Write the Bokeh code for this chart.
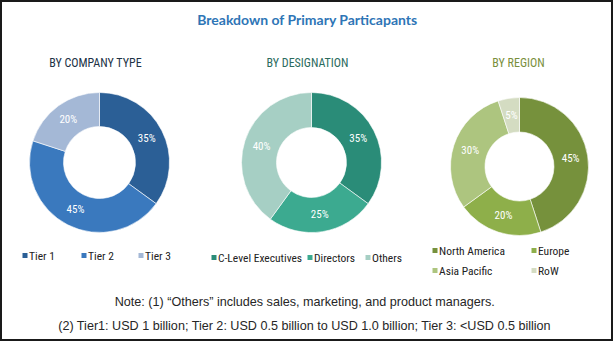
import math
from bokeh.plotting import figure
from bokeh.models import Range1d, ColumnDataSource
from bokeh.core.properties import value
from bokeh.embed import file_html
from bokeh.resources import INLINE

W, H = 613, 341

title_text = "Breakdown of Primary Particapants"

company_title = "BY COMPANY TYPE"
company_labels = ["Tier 1", "Tier 2", "Tier 3"]
company_values = [35, 45, 20]
company_colors = ["#2B5F96", "#3A79BE", "#A4B8D6"]

designation_title = "BY DESIGNATION"
designation_labels = ["C-Level Executives", "Directors", "Others"]
designation_values = [35, 25, 40]
designation_colors = ["#2A8C78", "#3CAA90", "#A6CFC4"]

region_title = "BY REGION"
region_labels = ["North America", "Europe", "Asia Pacific", "RoW"]
region_values = [45, 20, 30, 5]
region_colors = ["#76913C", "#8EAF4A", "#ADC57F", "#D4DCC2"]

notes = [
    "Note: (1) \u201cOthers\u201d  includes sales, marketing, and product managers.",
    "(2) Tier1:  USD 1 billion; Tier 2: USD 0.5 billion to USD 1.0 billion; Tier 3: <USD 0.5 billion",
]

NARROW = "'Liberation Sans Narrow', 'Arial Narrow', 'Roboto Condensed', Roboto, sans-serif"

p = figure(width=W, height=H, x_range=Range1d(0, W), y_range=Range1d(0, H),
           output_backend="svg", toolbar_location=None, min_border=0)
p.axis.visible = False
p.grid.visible = False
p.outline_line_color = "#1a1a1a"
p.outline_line_width = 3
p.background_fill_color = "white"


def Y(y):
    return H - y


def donut(cx, cy, r_out, r_in, vals, colors):
    total = float(sum(vals))
    starts, ends, lx, ly, txt = [], [], [], [], []
    cum = 0.0
    for v in vals:
        a0 = math.pi / 2 - 2 * math.pi * cum / total
        a1 = math.pi / 2 - 2 * math.pi * (cum + v) / total
        starts.append(a0)
        ends.append(a1)
        mid = (a0 + a1) / 2
        rm = (r_out + r_in) / 2
        lx.append(cx + rm * math.cos(mid))
        ly.append(Y(cy) + rm * math.sin(mid))
        txt.append(f"{v}%")
        cum += v
    src = ColumnDataSource(dict(start=starts, end=ends, color=colors))
    p.annular_wedge(x=cx, y=Y(cy), inner_radius=r_in, outer_radius=r_out,
                    start_angle="start", end_angle="end", direction="clock",
                    fill_color="color", line_color="white", line_width=0.6, source=src)
    p.text(x=lx, y=ly, text=txt, text_color="white", text_font=value(NARROW),
           text_font_size="11px", text_align="center", text_baseline="middle")


def legend(items, colors, xs, ys):
    p.rect(x=[x + 2.5 for x in xs], y=[Y(y) for y in ys], width=5, height=5,
           fill_color=colors, line_color=None)
    p.text(x=[x + 6.5 for x in xs], y=[Y(y) for y in ys], text=items,
           text_color="#222222", text_font=value(NARROW), text_font_size="11.5px",
           text_align="left", text_baseline="middle")


# title
p.text(x=[307], y=[Y(19)], text=[title_text], text_color="#2E75B6",
       text_font=value("Lato"), text_font_style="bold", text_font_size="14px",
       text_align="center", text_baseline="middle")

# subtitles
p.text(x=[95, 307, 518], y=[Y(62)] * 3,
       text=[company_title, designation_title, region_title],
       text_color=["#213246", "#2B6B5E", "#7A8F3C"], text_font=value(NARROW),
       text_font_size="12px", text_align="center", text_baseline="middle")

donut(99, 162, 70, 36, company_values, company_colors)
donut(311, 162, 70, 35, designation_values, designation_colors)
donut(519, 166, 69, 34.5, region_values, region_colors)

legend(company_labels, company_colors, [22, 81, 138], [255, 255, 255])
legend(designation_labels, designation_colors, [211, 307, 365], [257, 257, 257])
legend(region_labels, region_colors, [432, 531, 432, 531], [250, 250, 270, 270])

p.text(x=[306, 306], y=[Y(301), Y(325)], text=notes, text_color="#262626",
       text_font=value("Liberation Sans"), text_font_size="12.6px",
       text_align="center", text_baseline="middle")

open("out.html", "w").write(file_html(p, INLINE))
